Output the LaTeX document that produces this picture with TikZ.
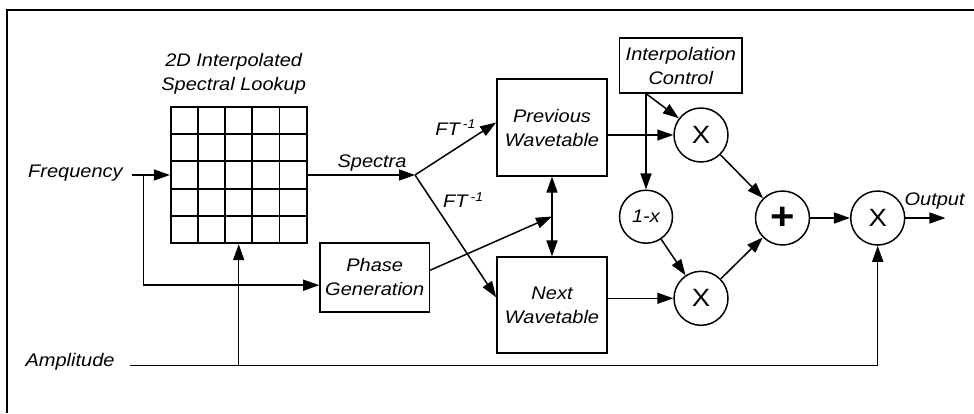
\documentclass[tikz,border=0pt]{standalone}
\usepackage{fontspec}
\setmainfont{Liberation Sans}[FakeStretch=1.1]
\usetikzlibrary{arrows.meta,positioning}

\begin{document}
\begin{tikzpicture}[x=1pt,y=-1pt,line width=1.5pt,inner sep=3pt,
	font=\fontsize{18.2}{24}\selectfont\itshape,
	>={Triangle[length=16pt,width=11pt]},
	block/.style={draw,line width=1.7pt,align=center,inner sep=0},
	opnode/.style={draw,circle,inner sep=0,minimum size=54pt,font=\fontsize{25}{25}\selectfont}]
\useasboundingbox (0,0) rectangle (974,413);
\draw[line width=1.7pt] (7.3,413) -- (7.3,10) -- (974,10);
\node[block,minimum width=136pt,minimum height=136.6pt] (lookup) at (238.7,175) {};
\foreach \k in {1,...,4}{
	\draw[line width=1.7pt] (170.7+\k*27.2,106.7) -- (170.7+\k*27.2,243.3);
	\draw[line width=1.7pt] (170.7,106.7+\k*27.32) -- (306.7,106.7+\k*27.32);
}
\node[above=7.5pt of lookup,xshift=-5pt,align=center] (lookuplbl) {2D Interpolated\\Spectral Lookup};
\node[block,minimum width=110pt,minimum height=96.4pt] (prev) at (552,127.5) {Previous\\Wavetable};
\node[block,minimum width=110pt,minimum height=96pt] (next) at (552,305.3) {Next\\Wavetable};
\node[block,minimum width=109.3pt,minimum height=69pt] (phase) at (374.7,277.2) {Phase\\Generation};
\node[block,minimum width=122.5pt,minimum height=54.4pt] (interp) at (680.8,65.5) {Interpolation\\Control};
\node[opnode] (mult1) at (701,135) {X};
\node[opnode] (mult2) at (701,298.3) {X};
\node[opnode,minimum size=53pt,font=\fontsize{18.2}{24}\selectfont\itshape] (onemx) at (646,216.7) {1-x};
\node[opnode,font=\fontsize{38}{38}\selectfont\bfseries] (plus) at (782.5,218) {+};
\node[opnode] (mult3) at (877.7,218) {X};
\coordinate (fin) at (131.7,175);
\coordinate (fbr) at (143.3,175);
\coordinate (spec) at (415,175);
\coordinate (ain) at (130,365.7);
\coordinate (pmid) at (552,216.5);
\coordinate (ictl) at (interp.south -| onemx.north);
\coordinate (out) at (945.4,218);
\node[anchor=base east] (freqlbl) at (126.5,177) {Frequency};
\node[anchor=base east] (amplbl) at (118.3,366.5) {Amplitude};
\draw[->] (fin) -- (lookup.west);
\draw[->] (fbr) |- ([yshift=-8pt]phase.west);
\draw[->] (lookup.east) -- node[above,pos=0.6] {Spectra} (spec);
\draw[->] (spec) -- node[pos=0.5,above=10pt] {FT\,\textsuperscript{-1}} ([yshift=5pt]prev.west);
\draw[->] (spec) -- node[pos=0.3,anchor=south west] {FT\,\textsuperscript{-1}} ([yshift=8pt]next.west);
\draw[<->] (prev.south) -- (next.north);
\draw[->] ([yshift=7pt]phase.east) -- (pmid);
\draw[->] (prev.east |- mult1.west) -- (mult1.west);
\draw[->] (next.east |- mult2.west) -- (mult2.west);
\draw[->] (ictl) -- (onemx.north);
\draw[->] (ictl) -- (mult1);
\draw[->] (onemx) -- (mult2);
\draw[->] (mult1) -- (plus);
\draw[->] (mult2) -- (plus);
\draw[->] (plus) -- (mult3);
\draw[->] (mult3) -- node[above=5pt,pos=0.73] {Output} (out);
\draw[->] (ain) -| (mult3.south);
\draw[->] (lookup.south |- ain) -- (lookup.south);
\end{tikzpicture}
\end{document}
